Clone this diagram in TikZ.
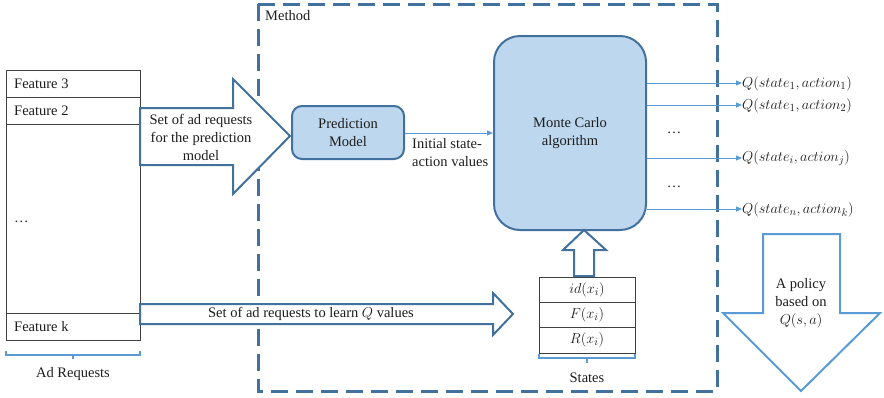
\documentclass[tikz,border=0pt]{standalone}
\usepackage{fontspec}
\setmainfont{Liberation Serif}
\usetikzlibrary{arrows.meta}
\definecolor{dkb}{RGB}{65,113,156}
\definecolor{ltb}{RGB}{91,155,213}
\definecolor{fillb}{RGB}{189,215,238}
\definecolor{txt}{RGB}{30,30,30}
\tikzset{
  lbl/.style={inner sep=0pt, text=txt},
  mlbl/.style={inner sep=0pt, text=txt, font=\fontsize{15.5}{18}\selectfont},
  rbox/.style={draw=dkb, line width=2pt, fill=fillb, inner sep=0pt, text=txt},
  bigarrow/.style={draw=dkb, line width=2pt, fill=white, line join=miter},
  thinarrow/.style={draw=ltb, line width=1pt, -{Triangle[length=6pt,width=5pt]}},
  tbl/.style={draw=black!75, line width=1pt},
  bracket/.style={draw=ltb, line width=1.2pt},
}
\begin{document}
\begin{tikzpicture}[x=1pt,y=-1pt, font=\fontsize{14.5}{18}\selectfont]
\useasboundingbox (0,0) rectangle (884,397);

% Method dashed box
\draw[dkb, line width=3pt, dash pattern=on 17pt off 8pt] (258,4) rectangle (717,391);
\node[lbl, anchor=west] (method) at (265,16) {Method};

% left table
\draw[tbl] (6,70) rectangle (140,340);
\draw[tbl] (6,97) -- (140,97);
\draw[tbl] (6,124) -- (140,124);
\draw[tbl] (6,313) -- (140,313);
\node[lbl, anchor=west] (f3) at (14,84) {Feature 3};
\node[lbl, anchor=west] (f2) at (14,111) {Feature 2};
\node[lbl, anchor=west] (fd) at (14,222) {\dots};
\node[lbl, anchor=west] (fk) at (14,327) {Feature k};
\draw[bracket] (6,351) -- (6,355) -- (140,355) -- (140,351);
\draw[bracket] (73,355) -- (73,359);
\node[lbl] (adreq) at (73,374) {Ad Requests};

% big arrow to prediction model
\draw[bigarrow] (140,108) -- (233,108) -- (233,79) -- (290,136) -- (233,194) -- (233,165) -- (140,165) -- cycle;
\node[lbl, align=center] (a1txt) at (201,137) {Set of ad requests\\for the prediction\\model};

% bottom big arrow
\draw[bigarrow] (140,304) -- (493,304) -- (493,293) -- (513,314) -- (493,335) -- (493,324) -- (140,324) -- cycle;
\node[lbl] (a2txt) at (311,314) {Set of ad requests to learn $Q$ values};

% prediction model
\node[rbox, rounded corners=10pt, minimum width=112pt, minimum height=53pt, align=center] (pm) at (348,132.5) {Prediction\\Model};

% monte carlo
\node[rbox, rounded corners=26pt, minimum width=152pt, minimum height=194pt, align=center] (mc) at (570,133) {Monte Carlo\\algorithm};

\draw[thinarrow] (pm.east |- 0,133) -- (mc.west |- 0,133);
\node[lbl, align=left, anchor=north west] (init) at (412,138) {Initial state-\\action values};

% outputs
\node[mlbl, anchor=west] (q1) at (742,84) {$Q(state_1, action_1)$};
\node[mlbl, anchor=west] (q2) at (742,106) {$Q(state_1, action_2)$};
\node[mlbl, anchor=west] (q3) at (742,158) {$Q(state_i, action_j)$};
\node[mlbl, anchor=west] (q4) at (742,210) {$Q(state_n, action_k)$};
\draw[thinarrow] (mc.east |- 0,83) -- (q1.west |- 0,83);
\draw[thinarrow] (mc.east |- 0,105) -- (q2.west |- 0,105);
\draw[thinarrow] (mc.east |- 0,158) -- (q3.west |- 0,158);
\draw[thinarrow] (mc.east |- 0,209) -- (q4.west |- 0,209);
\node[lbl] (d1) at (674,133) {\dots};
\node[lbl] (d2) at (674,187) {\dots};

% states table
\draw[tbl] (539,277) rectangle (635,353);
\draw[tbl] (539,302) -- (635,302);
\draw[tbl] (539,327) -- (635,327);
\node[mlbl] (s1) at (587,290) {$id(x_i)$};
\node[mlbl] (s2) at (587,315) {$F(x_i)$};
\node[mlbl] (s3) at (587,340) {$R(x_i)$};
\draw[bracket] (539,354) -- (539,358) -- (635,358) -- (635,354);
\draw[bracket] (587,358) -- (587,363);
\node[lbl] (states) at (587,378) {States};

% up arrow
\draw[bigarrow] (574,276) -- (574,250) -- (563,250) -- (584,230) -- (606,250) -- (594,250) -- (594,276) -- cycle;

% policy arrow
\draw[draw=ltb, line width=2pt, fill=white, line join=miter] (763,234) -- (840,234) -- (840,313) -- (880,313) -- (801,391) -- (723,313) -- (763,313) -- cycle;
\node[lbl, align=center] (pol) at (801,303) {A policy\\based on\\{\fontsize{15.5}{18}\selectfont$Q(s,a)$}};
\end{tikzpicture}
\end{document}
